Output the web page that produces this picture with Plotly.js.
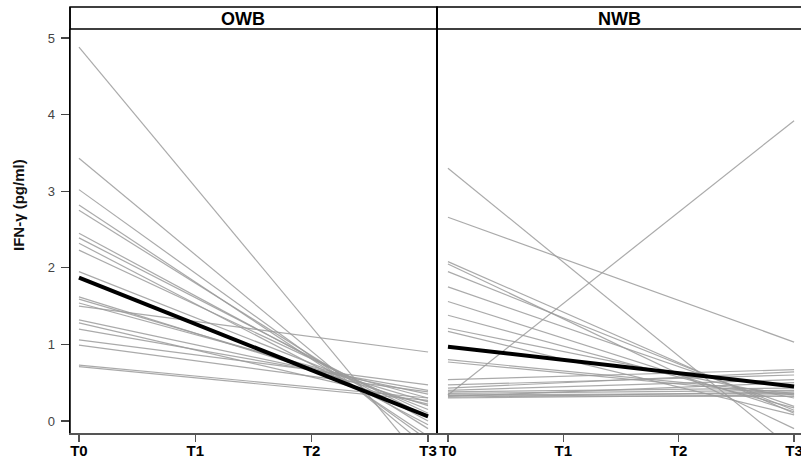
<!DOCTYPE html>
<html>
<head>
<meta charset="utf-8">
<script src="https://cdn.plot.ly/plotly-3.0.1.min.js"></script>
<style>html,body{margin:0;padding:0;background:#fff;}#chart{width:801px;height:465px;}</style>
</head>
<body>
<div id="chart"></div>
<script>
// Time points (categories)
const timepoints = ['T0', 'T1', 'T2', 'T3'];
const panels = ['OWB', 'NWB'];
const yTicks = [0, 1, 2, 3, 4, 5];
const yTitle = 'IFN-γ (pg/ml)';

// OWB individual trajectories: values at T0 and at T3
const owbT0 = [4.88, 3.43, 3.02, 2.82, 2.75, 2.45, 2.39, 2.32, 2.23, 1.95, 1.62, 1.59, 1.54, 1.50, 1.32, 1.28, 1.20, 1.06, 0.99, 0.73, 0.71];
const owbT3 = [-0.60, -0.35, -0.25, -0.20, -0.10, 0.00, 0.05, -0.05, 0.10, 0.15, 0.20, 0.25, 0.30, 0.90, 0.35, 0.22, 0.40, 0.47, 0.38, 0.30, 0.27];
const owbMean = [1.87, 0.06];

// NWB individual trajectories: values at T0 and at T3
const nwbT0 = [3.30, 2.66, 0.34, 2.08, 2.05, 1.95, 1.75, 1.56, 1.38, 1.21, 1.17, 0.80, 0.77, 0.54, 0.47, 0.43, 0.40, 0.38, 0.36, 0.34, 0.33, 0.32, 0.31, 0.30];
const nwbT3 = [-0.38, 1.03, 3.92, 0.10, -0.10, 0.14, 0.19, 0.12, 0.17, 0.30, 0.08, 0.36, 0.34, 0.67, 0.60, 0.64, 0.54, 0.43, 0.40, 0.36, 0.32, 0.50, 0.38, 0.34];
const nwbMean = [0.97, 0.45];

const W = 801, H = 465;
const px = v => v / W;
const py = v => 1 - v / H;
const FONT = 'Liberation Sans, Arial, sans-serif';

const traces = [];
function addPanel(t0, t3, mean, xa) {
  for (let i = 0; i < t0.length; i++) {
    traces.push({
      type: 'scatter', mode: 'lines', x: [timepoints[0], timepoints[3]], y: [t0[i], t3[i]],
      xaxis: xa, yaxis: 'y', line: {color: 'rgba(155,155,155,0.85)', width: 1.2},
      hoverinfo: 'skip', showlegend: false
    });
  }
  traces.push({
    type: 'scatter', mode: 'lines', x: [timepoints[0], timepoints[3]], y: mean,
    xaxis: xa, yaxis: 'y', line: {color: '#000', width: 4},
    hoverinfo: 'skip', showlegend: false
  });
}
addPanel(owbT0, owbT3, owbMean, 'x');
addPanel(nwbT0, nwbT3, nwbMean, 'x2');

const xCommon = {
  type: 'category', categoryorder: 'array', categoryarray: timepoints,
  showgrid: false, zeroline: false, showline: true, linecolor: '#555', linewidth: 1.5,
  ticks: 'outside', ticklen: 7, tickwidth: 1.5, tickcolor: '#555',
  ticklabelstandoff: -4,
  tickfont: {family: FONT, size: 15, color: '#000', weight: 'bold'},
  anchor: 'y', fixedrange: true
};

const layout = {
  width: W, height: H,
  margin: {l: 0, r: 0, t: 0, b: 0},
  paper_bgcolor: '#fff', plot_bgcolor: '#fff',
  xaxis: Object.assign({}, xCommon, {domain: [px(70), px(437)], range: [-0.077, 3.077]}),
  xaxis2: Object.assign({}, xCommon, {domain: [px(437), 1], range: [-0.095, 3.06]}),
  yaxis: {
    domain: [1 - 433 / H, 1 - 29 / H], range: [-0.157, 5.117],
    tickvals: yTicks, ticktext: yTicks.map(String),
    showgrid: false, zeroline: false, showline: true, linecolor: '#000', linewidth: 1.5,
    ticks: 'outside', ticklen: 8, tickwidth: 1.2, tickcolor: '#444',
    ticklabelstandoff: 3,
    tickfont: {family: FONT, size: 13, color: '#444'},
    anchor: 'x', fixedrange: true
  },
  shapes: [
    {type: 'rect', xref: 'paper', yref: 'paper', x0: px(70), x1: px(437), y0: py(29), y1: py(7), line: {color: '#000', width: 1.5}, fillcolor: '#fff', layer: 'below'},
    {type: 'rect', xref: 'paper', yref: 'paper', x0: px(437), x1: px(803), y0: py(29), y1: py(7), line: {color: '#000', width: 1.5}, fillcolor: '#fff', layer: 'below'},
    {type: 'line', xref: 'paper', yref: 'paper', x0: px(437), x1: px(437), y0: py(433), y1: py(7), line: {color: '#000', width: 2}},
    {type: 'line', xref: 'paper', yref: 'paper', x0: px(70), x1: px(70), y0: py(433), y1: py(7), line: {color: '#000', width: 1.5}}
  ],
  annotations: [
    {text: panels[0], xref: 'paper', yref: 'paper', x: px(243), y: py(18.5), showarrow: false, xanchor: 'center', yanchor: 'middle', font: {family: FONT, size: 18, color: '#000', weight: 'bold'}},
    {text: panels[1], xref: 'paper', yref: 'paper', x: px(619), y: py(18.5), showarrow: false, xanchor: 'center', yanchor: 'middle', font: {family: FONT, size: 18, color: '#000', weight: 'bold'}},
    {text: yTitle, xref: 'paper', yref: 'paper', x: px(18), y: py(205), showarrow: false, textangle: -90, xanchor: 'center', yanchor: 'middle', font: {family: FONT, size: 15, color: '#111', weight: 'bold'}}
  ]
};

Plotly.newPlot('chart', traces, layout, {staticPlot: true, displayModeBar: false});
</script>
</body>
</html>
